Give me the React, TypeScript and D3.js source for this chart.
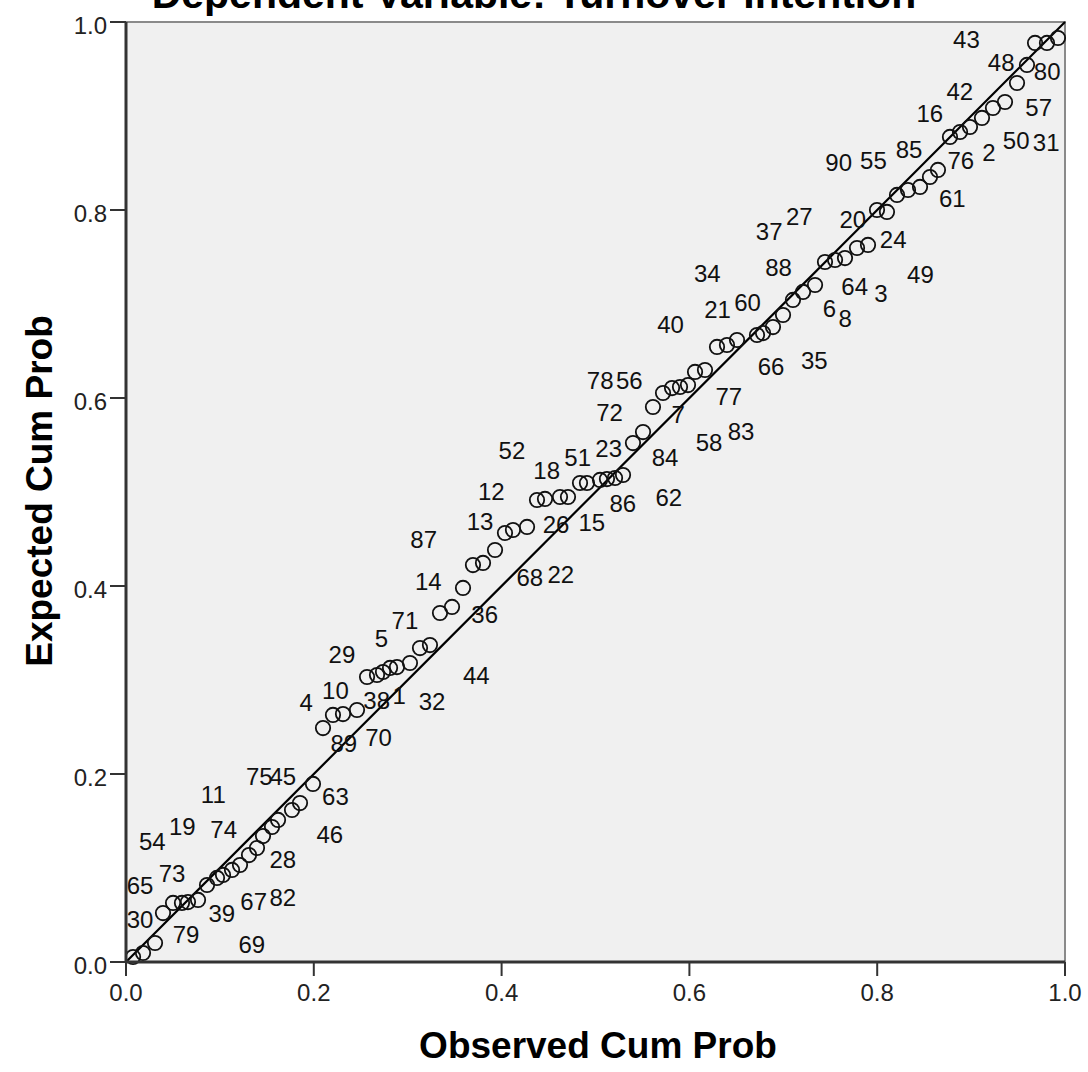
import React from "react";
import * as d3 from "d3";

const observed = [
  0.0075, 0.0181, 0.0309, 0.0394, 0.0501, 0.0596, 0.066, 0.0767, 0.0863, 0.0969,
  0.1033, 0.1129, 0.1214, 0.131, 0.1395, 0.1459, 0.1555, 0.1619, 0.1768, 0.1853,
  0.1991, 0.2098, 0.2204, 0.2311, 0.246, 0.2567, 0.2673, 0.2737, 0.2812, 0.2886,
  0.3024, 0.3131, 0.3237, 0.3344, 0.3472, 0.3589, 0.3695, 0.3802, 0.393, 0.4036,
  0.4121, 0.4271, 0.4377, 0.4462, 0.4622, 0.4707, 0.4835, 0.4909, 0.5048, 0.5122,
  0.5208, 0.5293, 0.5399, 0.5506, 0.5612, 0.5719, 0.5815, 0.59, 0.5985, 0.606,
  0.6166, 0.6294, 0.64, 0.6507, 0.672, 0.6784, 0.689, 0.6997, 0.7103, 0.721,
  0.7338, 0.7444, 0.7551, 0.7657, 0.7785, 0.7902, 0.7998, 0.8104, 0.8211, 0.8328,
  0.8456, 0.8562, 0.8647, 0.8775, 0.8882, 0.8988, 0.9116, 0.9233, 0.9361, 0.9489,
  0.9595, 0.9681, 0.9808, 0.9925,
];
const expected = [
  0.0053, 0.0096, 0.0202, 0.0521, 0.0628, 0.0628, 0.0638, 0.066, 0.0819, 0.0894,
  0.0926, 0.0979, 0.1032, 0.1138, 0.1213, 0.134, 0.1436, 0.1511, 0.1617, 0.1691,
  0.1894, 0.2489, 0.2628, 0.2638, 0.2681, 0.3032, 0.3053, 0.3085, 0.3128, 0.3138,
  0.3181, 0.334, 0.3372, 0.3713, 0.3777, 0.3979, 0.4223, 0.4245, 0.4383, 0.4564,
  0.4596, 0.4628, 0.4915, 0.4926, 0.4947, 0.4947, 0.5096, 0.5096, 0.5128, 0.5138,
  0.5149, 0.5181, 0.5521, 0.5638, 0.5904, 0.6053, 0.6106, 0.6117, 0.6138, 0.6277,
  0.6298, 0.6543, 0.6564, 0.6617, 0.667, 0.6691, 0.6755, 0.6883, 0.7043, 0.7128,
  0.7202, 0.7447, 0.7468, 0.7489, 0.7596, 0.7628, 0.8, 0.7979, 0.816, 0.8213,
  0.8245, 0.8351, 0.8426, 0.8777, 0.883, 0.8883, 0.8979, 0.9085, 0.9149, 0.9351,
  0.9543, 0.9777, 0.9777, 0.983,
];

// case-number labels and where they sit (data units)
const labelText = [
  "43", "48", "80", "16", "42", "57", "90", "55", "85", "76", "2", "50", "31", "61",
  "37", "27", "20", "24", "34", "88", "49", "64", "3", "21", "60", "6", "8", "40",
  "66", "35", "78", "56", "72", "7", "77", "58", "83", "52", "18", "51", "23", "84",
  "12", "86", "62", "26", "15", "87", "13", "14", "68", "22", "71", "36", "5", "29",
  "44", "10", "38", "1", "32", "4", "89", "70", "75", "45", "11", "63", "54", "19",
  "74", "46", "65", "73", "28", "30", "39", "67", "82", "79", "69",
];
const labelX = [
  0.895, 0.932, 0.981, 0.856, 0.888, 0.972, 0.759, 0.796, 0.834, 0.889, 0.919, 0.948, 0.98, 0.88,
  0.685, 0.717, 0.774, 0.817, 0.619, 0.695, 0.846, 0.776, 0.804, 0.63, 0.662, 0.749, 0.766, 0.58,
  0.687, 0.733, 0.505, 0.536, 0.515, 0.588, 0.642, 0.621, 0.655, 0.411, 0.448, 0.481, 0.514, 0.574,
  0.389, 0.529, 0.578, 0.458, 0.496, 0.317, 0.377, 0.322, 0.43, 0.463, 0.297, 0.382, 0.272, 0.23,
  0.373, 0.223, 0.267, 0.291, 0.326, 0.192, 0.232, 0.269, 0.142, 0.167, 0.093, 0.223, 0.028, 0.06,
  0.104, 0.217, 0.015, 0.049, 0.167, 0.015, 0.102, 0.136, 0.167, 0.064, 0.134,
];
const labelY = [
  0.981, 0.957, 0.947, 0.903, 0.926, 0.909, 0.85, 0.853, 0.864, 0.853, 0.861, 0.874, 0.872, 0.812,
  0.777, 0.793, 0.79, 0.768, 0.732, 0.739, 0.731, 0.718, 0.711, 0.694, 0.702, 0.695, 0.685, 0.678,
  0.633, 0.64, 0.618, 0.618, 0.584, 0.582, 0.602, 0.553, 0.564, 0.544, 0.523, 0.537, 0.546, 0.537,
  0.5, 0.488, 0.494, 0.465, 0.467, 0.449, 0.468, 0.405, 0.409, 0.412, 0.363, 0.37, 0.344, 0.327,
  0.305, 0.289, 0.278, 0.283, 0.277, 0.276, 0.232, 0.239, 0.197, 0.197, 0.178, 0.176, 0.128, 0.144,
  0.141, 0.136, 0.081, 0.094, 0.109, 0.045, 0.052, 0.064, 0.069, 0.029, 0.019,
];

const ticks = [0, 0.2, 0.4, 0.6, 0.8, 1.0];

const W = 1088;
const H = 1072;
const left = 126;
const right = 1065;
const top = 22;
const bottom = 962;

const font = "Arial, 'Liberation Sans', sans-serif";

export default function App() {
  const x = d3.scaleLinear().domain([0, 1]).range([left, right]);
  const y = d3.scaleLinear().domain([0, 1]).range([bottom, top]);
  const fmt = d3.format(".1f");
  const line = d3.line<number>()
    .x((d) => x(d))
    .y((d) => y(d));

  return (
    <svg
      width={W}
      height={H}
      style={{ position: "absolute", left: 0, top: 0, background: "#fff" }}
      fontFamily={font}
    >
      <text
        x={534}
        y={8}
        textAnchor="middle"
        fontSize={41}
        fontWeight="bold"
      >
        Dependent Variable: Turnover Intention
      </text>

      <rect
        x={left}
        y={top}
        width={right - left}
        height={bottom - top}
        fill="#f0f0f0"
        stroke="#8a8a8a"
        strokeWidth={2}
      />

      <path d={line([0, 1]) || ""} stroke="#000" strokeWidth={2.2} fill="none" />

      <g fill="none" stroke="#111" strokeWidth={1.8}>
        {observed.map((o, i) => (
          <circle key={i} cx={x(o)} cy={y(expected[i])} r={7.2} />
        ))}
      </g>

      <g fontSize={24} fill="#111" textAnchor="middle">
        {labelText.map((t, i) => (
          <text key={i} x={x(labelX[i])} y={y(labelY[i])} dy="0.35em">
            {t}
          </text>
        ))}
      </g>

      {/* axes */}
      <line x1={left} y1={top} x2={left} y2={bottom} stroke="#333" strokeWidth={3} />
      <line x1={left} y1={bottom} x2={right} y2={bottom} stroke="#333" strokeWidth={3} />

      <g fontSize={24} fill="#222">
        {ticks.map((t) => (
          <g key={"y" + t}>
            <line x1={left - 16} x2={left} y1={y(t)} y2={y(t)} stroke="#333" strokeWidth={2} />
            <text x={left - 19} y={y(t) + 4} dy="0.35em" textAnchor="end">
              {fmt(t)}
            </text>
          </g>
        ))}
        {ticks.map((t) => (
          <g key={"x" + t}>
            <line x1={x(t)} x2={x(t)} y1={bottom} y2={bottom + 14} stroke="#333" strokeWidth={2} />
            <text x={x(t)} y={bottom + 31} dy="0.35em" textAnchor="middle">
              {fmt(t)}
            </text>
          </g>
        ))}
      </g>

      <text
        x={598}
        y={1058}
        textAnchor="middle"
        fontSize={37}
        fontWeight="bold"
      >
        Observed Cum Prob
      </text>
      <text
        transform={`translate(52, 491) rotate(-90)`}
        textAnchor="middle"
        fontSize={37}
        fontWeight="bold"
      >
        Expected Cum Prob
      </text>
    </svg>
  );
}
